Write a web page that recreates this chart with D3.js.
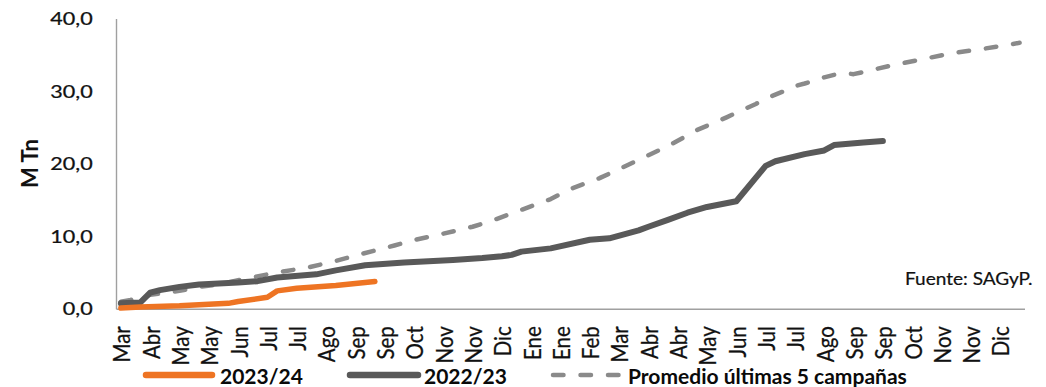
<!DOCTYPE html>
<html>
<head>
<meta charset="utf-8">
<script src="https://cdn.jsdelivr.net/npm/d3@7"></script>
<style>
  html, body { margin: 0; padding: 0; background: #fff; }
  svg { display: block; }
  text { font-family: Lato, "Open Sans", "DejaVu Sans", sans-serif; }
</style>
</head>
<body>
<svg id="chart" width="1046" height="387"></svg>
<script>
// Cumulative tonnage (millions of tonnes), by week of the season
const tickLabels = ["Mar","Abr","May","May","Jun","Jul","Jul","Ago","Sep","Sep","Oct","Nov","Nov","Dic",
  "Ene","Ene","Feb","Mar","Abr","Abr","May","Jun","Jul","Jul","Ago","Sep","Sep","Oct","Nov","Nov","Dic"];
const yTicks = [0, 10, 20, 30, 40];

const weeks2324 = [0, 2, 6, 11, 12, 15, 16, 18, 22, 26];
const tons2324  = [0.10, 0.25, 0.40, 0.74, 0.99, 1.57, 2.46, 2.81, 3.20, 3.75];

const weeks2223 = [0, 2, 3, 4, 6, 8, 12, 14, 16, 20, 22, 25, 29, 34, 37, 39, 40, 41, 44, 48, 50,
  53, 54, 56, 58, 60, 63, 66, 67, 70, 72, 73, 76, 78];
const tons2223  = [0.74, 0.87, 2.21, 2.56, 3.01, 3.35, 3.60, 3.80, 4.30, 4.74, 5.29, 5.98, 6.38, 6.73,
  6.98, 7.23, 7.42, 7.87, 8.32, 9.51, 9.71, 10.80, 11.30, 12.24, 13.23, 14.03, 14.82, 19.69, 20.33,
  21.32, 21.82, 22.56, 22.91, 23.11];

const weeksAvg = [0, 1, 3, 6, 8, 10, 13, 16, 19, 22, 24, 28, 30, 33, 36, 38, 41, 44, 46, 49, 52, 54,
  56, 57, 59, 61, 62, 64, 65, 66, 68, 69, 70, 72, 73, 74, 75, 76, 79, 82, 85, 88, 92];
const tonsAvg  = [0.97, 1.22, 1.91, 2.46, 3.00, 3.35, 4.20, 5.00, 5.64, 6.58, 7.32, 8.72, 9.46, 10.35,
  11.30, 12.14, 13.63, 15.12, 16.50, 18.00, 19.88, 21.17, 22.42, 23.16, 24.65, 25.79, 26.38, 27.63,
  28.23, 28.97, 30.06, 30.70, 31.05, 31.90, 32.24, 32.49, 32.34, 32.64, 33.58, 34.38, 35.22, 35.77, 36.66];

const series = [
  { name: "2023/24", weeks: weeks2324, tons: tons2324, color: "#ee7423", width: 5.5, dash: null },
  { name: "2022/23", weeks: weeks2223, tons: tons2223, color: "#595959", width: 6, dash: null },
  { name: "Promedio últimas 5 campañas", weeks: weeksAvg, tons: tonsAvg, color: "#8a8a8a", width: 4.5, dash: "10.5,17" }
];

const svg = d3.select("#chart");

const x = d3.scaleLinear().domain([-0.5, 92.5]).range([116, 1024.5]);
const y = d3.scaleLinear().domain([0, 40]).range([308.7, 18.6]);

// Axes
const yAxis = svg.append("g")
  .attr("transform", `translate(${x(-0.5)},0)`)
  .call(d3.axisLeft(y).tickValues(yTicks).tickSize(0).tickSizeOuter(0)
    .tickFormat(d => d.toFixed(1).replace(".", ",")));
yAxis.select(".domain").attr("stroke", "#a0a0a0").attr("stroke-width", 1.4);
yAxis.selectAll("text")
  .attr("x", 0).attr("dy", "0.35em")
  .attr("transform", "translate(-23.3,0) scale(1.24,1)")
  .attr("text-anchor", "end")
  .style("font-size", "17.4px").attr("fill", "#111")
  .attr("stroke", "#111").attr("stroke-width", 0.25);

const xTickWeeks = tickLabels.map((_, i) => i * 3);
const xAxis = svg.append("g")
  .attr("transform", `translate(0,${y(0)})`)
  .call(d3.axisBottom(x).tickValues(xTickWeeks).tickSize(0).tickSizeOuter(0)
    .tickFormat((d, i) => tickLabels[i]));
xAxis.select(".domain").attr("stroke", "#a0a0a0").attr("stroke-width", 1.4);
xAxis.selectAll("text")
  .attr("x", 0).attr("y", 0).attr("dy", "0.35em")
  .attr("transform", "translate(1,17.5) scale(1.1,1) rotate(-90)")
  .attr("text-anchor", "end")
  .style("font-size", "20.5px").attr("fill", "#111")
  .attr("stroke", "#111").attr("stroke-width", 0.25);

// Axis title
svg.append("g")
  .attr("transform", "translate(30,163.5) scale(1.06,1) rotate(-90)")
  .append("text")
  .attr("text-anchor", "middle").attr("dy", "0.35em")
  .style("font-size", "22px").style("font-weight", "bold").attr("fill", "#111")
  .text("M Tn");

// Lines
const line = d3.line()
  .x(d => x(d[0]))
  .y(d => y(d[1]));

// draw the average first so the seasons sit on top
[series[2], series[1], series[0]].forEach(s => {
  svg.append("path")
    .datum(s.weeks.map((w, i) => [w, s.tons[i]]))
    .attr("fill", "none")
    .attr("stroke", s.color)
    .attr("stroke-width", s.width)
    .attr("stroke-linecap", "round")
    .attr("stroke-linejoin", "round")
    .attr("stroke-dasharray", s.dash)
    .attr("d", line);
});

// Source note
svg.append("g")
  .attr("transform", "translate(905,285) scale(1.17,1)")
  .append("text")
  .style("font-size", "16.3px").attr("fill", "#111")
  .attr("stroke", "#111").attr("stroke-width", 0.2)
  .text("Fuente: SAGyP.");

// Legend
const legendItems = [
  { s: series[0], x1: 146, x2: 212, tx: 220 },
  { s: series[1], x1: 350, x2: 418, tx: 424 },
  { s: series[2], x1: 553, x2: 620, tx: 628 }
];
const lg = svg.append("g");
legendItems.forEach(it => {
  lg.append("line")
    .attr("x1", it.x1).attr("x2", it.x2).attr("y1", 375).attr("y2", 375)
    .attr("stroke", it.s.color)
    .attr("stroke-width", it.s.dash ? 4.5 : 6.5)
    .attr("stroke-linecap", "round")
    .attr("stroke-dasharray", it.s.dash ? "10.5,17" : null);
  lg.append("text")
    .attr("x", it.tx).attr("y", 383.5)
    .style("font-size", "21px").style("font-weight", "bold").attr("fill", "#0a0a0a")
    .text(it.s.name);
});
</script>
</body>
</html>
